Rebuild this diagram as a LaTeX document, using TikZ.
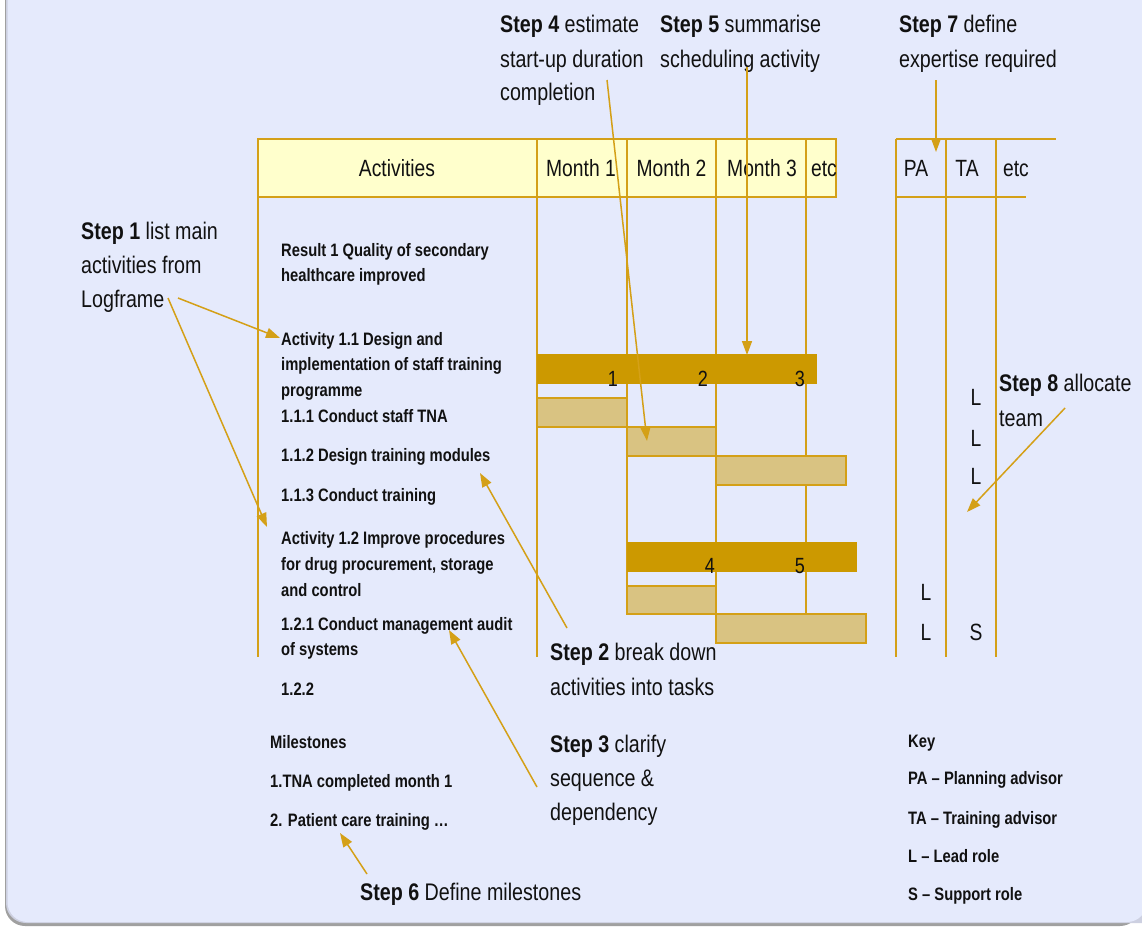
\documentclass[tikz,border=0pt]{standalone}
\usepackage{fontspec}
\setmainfont{Liberation Sans}[FakeStretch=0.82]
\usetikzlibrary{arrows.meta}
\definecolor{bgc}{RGB}{229,234,252}
\definecolor{goldc}{RGB}{212,160,23}
\definecolor{darkbarc}{RGB}{204,153,0}
\definecolor{lightbarc}{RGB}{217,195,130}
\definecolor{hdrc}{RGB}{255,255,204}
\definecolor{shadec}{RGB}{160,160,160}
\definecolor{edgec}{RGB}{205,208,225}
\definecolor{inkc}{RGB}{17,17,17}
\begin{document}
\begin{tikzpicture}[x=1pt,y=-1pt,
  gridline/.style={draw=goldc, line width=1.5pt},
  dbar/.style={fill=darkbarc},
  lbar/.style={fill=lightbarc, draw=goldc, line width=1.5pt},
  arr/.style={draw=goldc, line width=1.5pt, -{Triangle[length=14pt,width=10pt]}},
  sm/.style={anchor=base west, inner sep=0pt, text=inkc, font=\fontsize{18}{22}\selectfont\bfseries},
  big/.style={anchor=base west, inner sep=0pt, text=inkc, font=\fontsize{24}{30}\selectfont},
  hd/.style={anchor=base, inner sep=0pt, text=inkc, font=\fontsize{23.5}{28}\selectfont},
  num/.style={anchor=base, inner sep=0pt, text=inkc, font=\fontsize{22}{26}\selectfont},
]
\useasboundingbox (0,0) rectangle (1142,926);
\begin{scope}
\clip (0,0) rectangle (1142,926);
% background panel
\fill[shadec, rounded corners=20pt] (5,-40) rectangle (1140,926);
\fill[edgec, rounded corners=20pt] (6,-40) rectangle (1170,923);
\fill[bgc, rounded corners=20pt] (7.5,-40) rectangle (1147,922);
\end{scope}

% header of the activity table
\draw[fill=hdrc, draw=goldc, line width=2pt] (258,139) rectangle (836,197);
% grid lines
\draw[gridline] (537,139) -- (537,657);
\draw[gridline] (627,139) -- (627,614);
\draw[gridline] (716,139) -- (716,643);
\draw[gridline] (806,139) -- (806,643);
\draw[gridline] (258,197) -- (258,657);
% resource table
\draw[gridline] (896,139) -- (1056,139);
\draw[gridline] (896,197) -- (1026,197);
\draw[gridline] (896,139) -- (896,657);
\draw[gridline] (946,139) -- (946,657);
\draw[gridline] (996,139) -- (996,657);

% header texts
\node[hd] (hAct) at (397,176) {Activities};
\node[hd] (hM1) at (581,176) {Month 1};
\node[hd] (hM2) at (671.5,176) {Month 2};
\node[hd] (hM3) at (762,176) {Month 3};
\node[hd] (hEtc) at (824,176) {etc};
\node[hd] (hPA) at (916,176) {PA};
\node[hd] (hTA) at (967,176) {TA};
\node[hd] (hEtc2) at (1016,176) {etc};

% bars
\fill[dbar] (537,354) rectangle (817,384);
\draw[lbar] (537,398) rectangle (627,427);
\draw[lbar] (627,427) rectangle (716,456);
\draw[lbar] (716,456) rectangle (846,485);
\fill[dbar] (627,542) rectangle (857,572);
\draw[lbar] (627,586) rectangle (716,614);
\draw[lbar] (716,614) rectangle (866,643);
\node[num] (n1) at (613,386) {1};
\node[num] (n2) at (703,386) {2};
\node[num] (n3) at (800,386) {3};
\node[num] (n4) at (710,573) {4};
\node[num] (n5) at (800,573) {5};

% roles
\node[hd] (r1) at (976,405) {L};
\node[hd] (r2) at (976,446) {L};
\node[hd] (r3) at (976,484) {L};
\node[hd] (r4) at (926,600) {L};
\node[hd] (r5) at (926,640) {L};
\node[hd] (r6) at (976,640) {S};

% activity texts
\node[sm] (t1) at (281,256) {Result 1 Quality of secondary};
\node[sm] (t2) at (281,281) {healthcare improved};
\node[sm] (t3) at (281,345) {Activity 1.1 Design and};
\node[sm] (t4) at (281,370) {implementation of staff training};
\node[sm] (t5) at (281,396) {programme};
\node[sm] (t6) at (281,422) {1.1.1 Conduct staff TNA};
\node[sm] (t7) at (281,461) {1.1.2 Design training modules};
\node[sm] (t8) at (281,501) {1.1.3 Conduct training};
\node[sm] (t9) at (281,544) {Activity 1.2 Improve procedures};
\node[sm] (t10) at (281,570) {for drug procurement, storage};
\node[sm] (t11) at (281,596) {and control};
\node[sm] (t12) at (281,630) {1.2.1 Conduct management audit};
\node[sm] (t13) at (281,655) {of systems};
\node[sm] (t14) at (281,695) {1.2.2};
\node[sm] (m0) at (270,748) {Milestones};
\node[sm] (m1) at (270,787) {1.TNA completed month 1};
\node[sm] (m2) at (270,826) {2. Patient care training \dots};
% key
\node[sm] (k0) at (908,747) {Key};
\node[sm] (k1) at (908,784) {PA -- Planning advisor};
\node[sm] (k2) at (908,824) {TA -- Training advisor};
\node[sm] (k3) at (908,862) {L -- Lead role};
\node[sm] (k4) at (908,900) {S -- Support role};

% step texts
\node[big] (s1a) at (81,239) {\textbf{Step 1} list main};
\node[big] (s1b) at (81,273) {activities from};
\node[big] (s1c) at (81,307) {Logframe};
\node[big] (s4a) at (500,32) {\textbf{Step 4} estimate};
\node[big] (s4b) at (500,67) {start-up duration};
\node[big] (s4c) at (500,100) {completion};
\node[big] (s5a) at (660,32) {\textbf{Step 5} summarise};
\node[big] (s5b) at (660,67) {scheduling activity};
\node[big] (s7a) at (899,32) {\textbf{Step 7} define};
\node[big] (s7b) at (899,67) {expertise required};
\node[big] (s8a) at (999,391) {\textbf{Step 8} allocate};
\node[big] (s8b) at (999,426) {team};
\node[big] (s2a) at (550,660) {\textbf{Step 2} break down};
\node[big] (s2b) at (550,695) {activities into tasks};
\node[big] (s3a) at (550,752) {\textbf{Step 3} clarify};
\node[big] (s3b) at (550,786) {sequence \&};
\node[big] (s3c) at (550,820) {dependency};
\node[big] (s6a) at (360,900) {\textbf{Step 6} Define milestones};

% arrow end points
\coordinate (a1s) at (178,298);
\coordinate (a1e) at (280,338);
\coordinate (a2s) at (168,298);
\coordinate (a2e) at (267,527);
\coordinate (a4s) at (607,80);
\coordinate (a4e) at (647,441);
\coordinate (a5s) at (747,67);
\coordinate (a5e) at (747,355);
\coordinate (a7s) at (936,80);
\coordinate (a7e) at (936,152);
\coordinate (a8s) at (1065,408);
\coordinate (a8e) at (967,512);
\coordinate (a2bs) at (567,628);
\coordinate (a2be) at (480,473);
\coordinate (a3s) at (537,787);
\coordinate (a3e) at (449,630);
\coordinate (a6s) at (367,874);
\coordinate (a6e) at (340,833);

\draw[arr] (a1s) -- (a1e);
\draw[arr] (a2s) -- (a2e);
\draw[arr] (a4s) -- (a4e);
\draw[arr] (a5s) -- (a5e);
\draw[arr] (a7s) -- (a7e);
\draw[arr] (a8s) -- (a8e);
\draw[arr] (a2bs) -- (a2be);
\draw[arr] (a3s) -- (a3e);
\draw[arr] (a6s) -- (a6e);
\end{tikzpicture}
\end{document}
